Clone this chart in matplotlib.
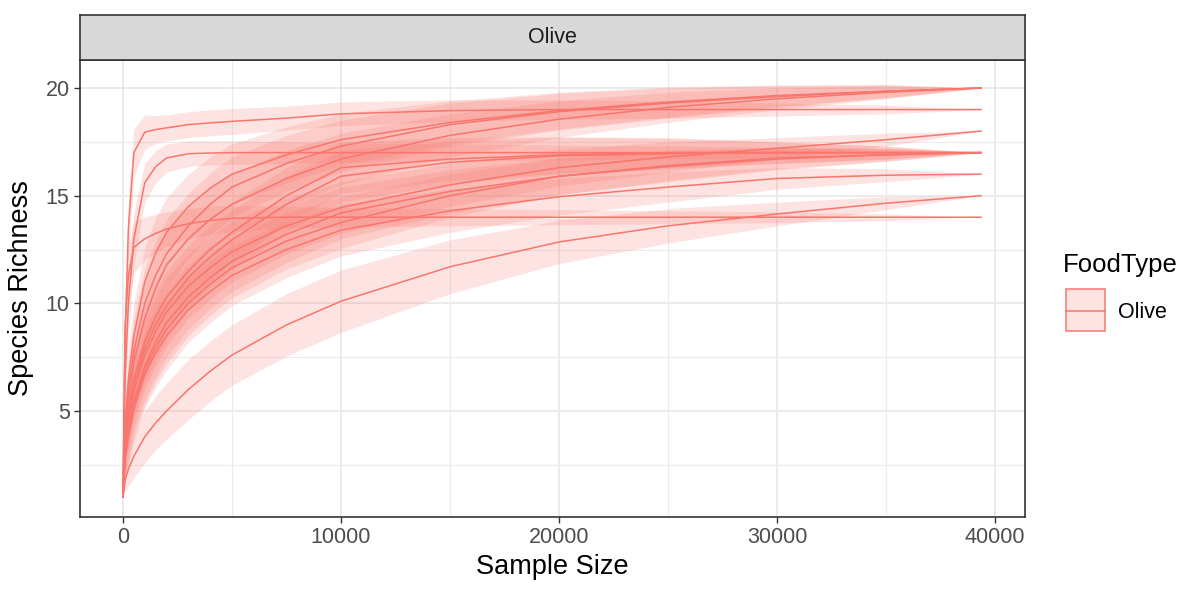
import numpy as np
import matplotlib
matplotlib.use("Agg")
import matplotlib.pyplot as plt
from matplotlib.patches import Rectangle
from matplotlib.lines import Line2D

plt.rcParams['font.family'] = ['Liberation Sans', 'DejaVu Sans']

sample_size = [1, 100, 250, 500, 1000, 1500, 2000, 3000, 4000, 5000, 7500, 10000,
               15000, 20000, 25000, 30000, 35000, 39350]

# species richness per sample
rich_t = [1, 8.5, 13.5, 17.0, 17.95, 18.07, 18.15, 18.3, 18.38, 18.45, 18.6, 18.8, 18.95, 19.0, 19.0, 19.0, 19.0, 19.0]
rich_p17 = [1, 6.5, 10.0, 13.0, 15.6, 16.35, 16.75, 16.95, 16.98, 17.0, 17.0, 17.0, 17.0, 17.0, 17.0, 17.0, 17.0, 17.0]
rich_p14 = [1, 9.0, 11.3, 12.6, 13.0, 13.25, 13.45, 13.7, 13.85, 13.95, 14.0, 14.0, 14.0, 14.0, 14.0, 14.0, 14.0, 14.0]
rich_a = [1, 4.5, 6.5, 8.5, 11.0, 12.35, 13.3, 14.5, 15.35, 16.0, 16.9, 17.6, 18.4, 18.95, 19.35, 19.65, 19.85, 20.0]
rich_b = [1, 4.0, 6.0, 7.8, 10.0, 11.3, 12.3, 13.6, 14.6, 15.4, 16.5, 17.3, 18.3, 18.9, 19.3, 19.6, 19.85, 20.0]
rich_c = [1, 3.8, 5.5, 7.3, 9.3, 10.7, 11.8, 13.0, 13.9, 14.6, 15.8, 16.7, 17.8, 18.55, 19.1, 19.5, 19.8, 20.0]
rich_d = [1, 3.5, 5.0, 6.5, 8.2, 9.4, 10.3, 11.5, 12.5, 13.3, 15.0, 16.3, 16.7, 16.9, 17.0, 17.0, 17.0, 17.0]
rich_e = [1, 3.3, 4.7, 6.2, 7.9, 9.0, 9.9, 11.2, 12.15, 12.95, 14.6, 15.9, 16.55, 16.85, 16.95, 17.0, 17.0, 17.0]
rich_f = [1, 3.2, 4.5, 5.9, 7.6, 8.7, 9.6, 10.8, 11.65, 12.4, 13.6, 14.45, 15.5, 16.3, 16.8, 17.2, 17.6, 18.0]
rich_g = [1, 3.0, 4.2, 5.5, 7.1, 8.2, 9.1, 10.3, 11.2, 11.95, 13.2, 14.2, 15.2, 15.9, 16.35, 16.7, 16.9, 17.0]
rich_h = [1, 2.9, 4.0, 5.3, 6.9, 7.95, 8.8, 10.0, 10.9, 11.65, 12.9, 13.75, 15.0, 15.9, 16.4, 16.75, 16.9, 17.0]
rich_i = [1, 2.8, 3.8, 5.1, 6.7, 7.7, 8.5, 9.7, 10.55, 11.3, 12.5, 13.4, 14.3, 14.95, 15.4, 15.8, 15.95, 16.0]
rich_l = [1, 1.8, 2.3, 2.9, 3.8, 4.45, 5.0, 6.0, 6.85, 7.6, 9.0, 10.1, 11.7, 12.85, 13.6, 14.15, 14.65, 15.0]

# half width of the confidence band per sample
band_t = [0, 1.5, 1.4, 1.1, 0.8, 0.65, 0.6, 0.6, 0.6, 0.6, 0.55, 0.55, 0.5, 0.45, 0.4, 0.3, 0.2, 0]
band_p17 = [0, 1.5, 1.5, 1.2, 0.9, 0.75, 0.65, 0.6, 0.55, 0.55, 0.5, 0.45, 0.4, 0.35, 0.3, 0.25, 0.15, 0]
band_p14 = [0, 1.5, 1.4, 1.2, 1.0, 0.9, 0.8, 0.7, 0.65, 0.6, 0.5, 0.45, 0.4, 0.35, 0.3, 0.25, 0.15, 0]
band_mid = [0, 1.0, 1.3, 1.5, 1.6, 1.6, 1.6, 1.5, 1.45, 1.4, 1.3, 1.2, 1.0, 0.85, 0.7, 0.5, 0.3, 0]
band_l = [0, 0.5, 0.8, 1.0, 1.2, 1.25, 1.3, 1.4, 1.4, 1.4, 1.45, 1.45, 1.25, 1.0, 0.8, 0.55, 0.3, 0]

curves = [
    (rich_t, band_t), (rich_p17, band_p17), (rich_p14, band_p14),
    (rich_a, band_mid), (rich_b, band_mid), (rich_c, band_mid),
    (rich_d, band_mid), (rich_e, band_mid), (rich_f, band_mid),
    (rich_g, band_mid), (rich_h, band_mid), (rich_i, band_mid),
    (rich_l, band_l),
]

red = '#F8766D'
W, H = 1182, 589
fig = plt.figure(figsize=(W / 100, H / 100), dpi=100)

left, right, top, bottom = 80, 1025, 60, 517
ax = fig.add_axes([left / W, 1 - bottom / H, (right - left) / W, (bottom - top) / H])

x = np.array(sample_size)
for rich, band in curves:
    r = np.array(rich)
    b = np.array(band)
    ax.fill_between(x, r - b, r + b, color=red, alpha=0.2, linewidth=0)
for rich, band in curves:
    ax.plot(x, rich, color=red, linewidth=1.1)

ax.set_xlim(-1970, 41370)
ax.set_ylim(0.08, 21.3)
ax.set_xticks([0, 10000, 20000, 30000, 40000])
ax.set_xticks([5000, 15000, 25000, 35000], minor=True)
ax.set_yticks([5, 10, 15, 20])
ax.set_yticks([2.5, 7.5, 12.5, 17.5], minor=True)
ax.grid(True, which='major', color='#EBEBEB', linewidth=1.4)
ax.grid(True, which='minor', color='#EBEBEB', linewidth=0.8)
ax.set_axisbelow(True)
ax.tick_params(which='major', length=4.5, width=1, color='#333333',
               labelsize=15.5, labelcolor='#4D4D4D', pad=3)
ax.tick_params(which='minor', length=0)
for s in ax.spines.values():
    s.set_color('#333333')
    s.set_linewidth(1.2)
ax.set_xlabel('Sample Size', fontsize=19.5, labelpad=4)
ax.set_ylabel('Species Richness', fontsize=19.5, labelpad=8)

# facet strip
strip = fig.add_axes([left / W, 1 - top / H, (right - left) / W, 45 / H])
strip.set_facecolor('#D9D9D9')
strip.set_xticks([])
strip.set_yticks([])
for s in strip.spines.values():
    s.set_color('#333333')
    s.set_linewidth(1.2)
strip.text(0.5, 0.5, 'Olive', ha='center', va='center', fontsize=15.5, color='#1A1A1A')

# legend
fig.text(1063 / W, 1 - 265 / H, 'FoodType', fontsize=18.5, va='center', ha='left')
fig.add_artist(Rectangle((1066 / W, 1 - 331 / H), 39 / W, 42 / H,
                         facecolor=red, alpha=0.2, edgecolor='none'))
fig.add_artist(Rectangle((1066 / W, 1 - 331 / H), 39 / W, 42 / H,
                         facecolor='none', edgecolor=red, linewidth=1.1))
fig.add_artist(Line2D([1066 / W, 1105 / W], [1 - 311 / H, 1 - 311 / H],
                      color=red, linewidth=1.1))
fig.text(1118 / W, 1 - 312 / H, 'Olive', fontsize=15.5, va='center', ha='left')

fig.savefig('out.png', dpi=100)
